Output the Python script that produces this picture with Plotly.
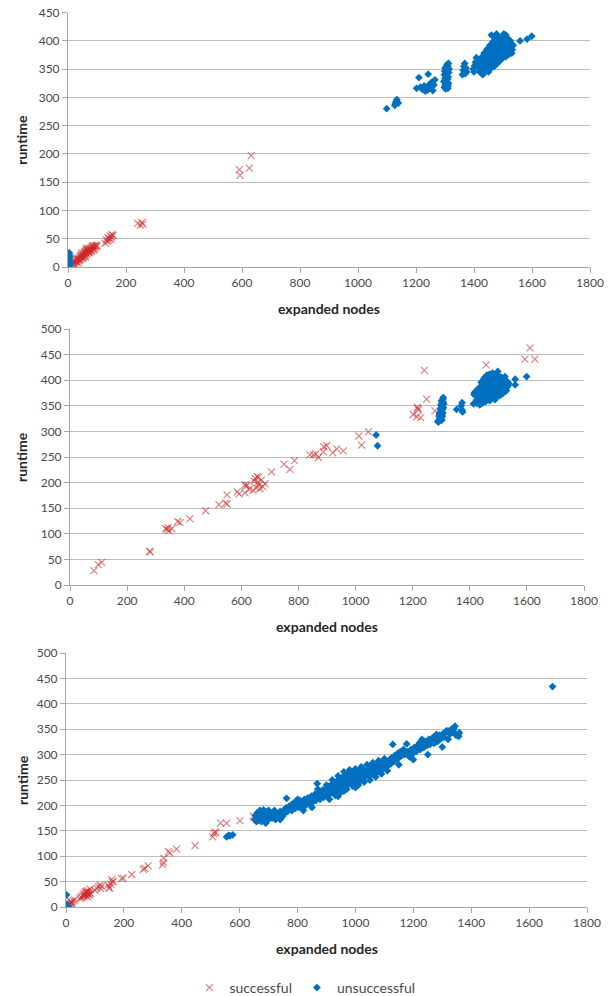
import plotly.graph_objects as go

W, H = 616, 996

# ---------------- panel 1 ----------------
p1_succ_x = [15, 18, 20, 22, 25, 28, 30, 32, 35, 36, 38, 40, 42, 44, 45, 48, 50, 52, 54, 55,
             58, 60, 60, 62, 64, 65, 67, 68, 70, 72, 74, 75, 78, 80, 82, 84, 86, 88, 90, 92,
             95, 98, 20, 25, 30, 35, 40, 45, 50, 55, 60, 65, 70, 75, 80, 85, 90, 100, 62, 58, 48,
             128, 132, 135, 138, 140, 143, 145, 148, 150, 152, 155,
             240, 250, 255, 258, 591, 593, 625, 632]
p1_succ_y = [5, 8, 6, 10, 9, 12, 8, 14, 11, 15, 13, 17, 14, 19, 16, 18, 21, 17, 22, 19,
             24, 21, 27, 25, 29, 23, 27, 31, 26, 30, 28, 33, 31, 35, 29, 33, 36, 32, 37, 34,
             38, 36, 12, 4, 15, 7, 12, 22, 15, 25, 18, 30, 33, 25, 28, 38, 30, 38, 33, 28, 25,
             42, 48, 45, 52, 47, 50, 55, 49, 53, 57, 56,
             77, 74, 79, 76, 172, 162, 175, 197]

p1_fail_x = [5, 4, 6, 5, 4, 6, 5, 4,
             1099, 1127, 1131, 1134, 1139, 1129,
             1202, 1210, 1215, 1222, 1228, 1232, 1236, 1242, 1240, 1245, 1248, 1252, 1255, 1258, 1265, 1262,
             1298, 1300, 1302, 1304, 1300, 1306, 1303, 1308, 1305, 1310, 1307, 1312, 1302, 1310, 1312, 1306,
             1309, 1296, 1298, 1313, 1311, 1304, 1299, 1310, 1314, 1300,
             1360, 1363, 1365, 1368, 1372, 1375, 1370,
             1397, 1400, 1405, 1408, 1402,
             1418, 1422, 1425, 1428, 1430, 1432, 1434, 1436, 1438, 1440, 1440, 1442, 1444, 1445, 1446, 1448,
             1449, 1450, 1451, 1452, 1453, 1455, 1456, 1457, 1458, 1460, 1461, 1462, 1463, 1464, 1466, 1467,
             1468, 1469, 1470, 1471, 1472, 1473, 1474, 1475, 1476, 1478, 1479, 1480, 1481, 1482, 1484, 1485,
             1486, 1488, 1489, 1490, 1491, 1492, 1494, 1495, 1496, 1498, 1500, 1501, 1503, 1504, 1505, 1507,
             1508, 1510, 1512, 1514, 1515, 1517, 1520, 1522, 1525, 1532, 1438, 1444, 1455, 1465, 1412, 1416,
             1420, 1425, 1430, 1435, 1440, 1445, 1450, 1455, 1460, 1465, 1470, 1475, 1480, 1485, 1490,
             1495, 1500, 1505, 1510, 1515, 1520, 1525, 1530, 1460, 1478, 1490, 1510, 1528, 1535, 1520,
             1559, 1583, 1599]
p1_fail_y = [0, 2, 5, 10, 14, 18, 22, 25,
             280, 286, 292, 296, 290, 289,
             316, 335, 318, 314, 320, 311, 318, 341, 313, 322, 316, 326, 319, 312, 331, 322,
             318, 322, 326, 330, 334, 338, 342, 346, 350, 354, 358, 360, 315, 320, 325, 328,
             332, 328, 340, 344, 336, 322, 346, 316, 350, 352,
             340, 348, 355, 360, 352, 345, 342,
             350, 345, 362, 370, 356,
             352, 348, 358, 354, 362, 350, 366, 358, 352, 370, 362, 356, 374, 366, 360, 378,
             352, 370, 363, 384, 357, 375, 368, 390, 361, 380, 372, 395, 365, 386, 376, 369,
             392, 382, 400, 374, 408, 387, 368, 396, 380, 372, 390, 402, 384, 376, 394, 370,
             386, 398, 380, 376, 392, 404, 384, 378, 396, 388, 382, 400, 412, 392, 386, 396,
             380, 390, 384, 394, 398, 388, 392, 386, 390, 384, 345, 348, 352, 358, 358, 364,
             345, 370, 340, 378, 348, 385, 345, 392, 352, 398, 355, 404, 360, 406, 365,
             402, 370, 405, 372, 404, 376, 400, 378, 410, 412, 396, 410, 395, 392, 402,
             400, 403, 408]

# ---------------- panel 2 ----------------
p2_succ_x = [84, 99, 111, 279, 281, 335, 340, 347, 357, 343, 377, 385, 420, 475, 522, 545, 550, 550,
             586, 592, 613, 613, 616, 620, 628, 641, 645, 648, 652, 655, 657, 660, 662, 665, 670, 675,
             683, 706, 749, 770, 786, 840, 852, 861, 870, 887, 889, 899, 920, 934, 957,
             1012, 1021, 1045, 1202, 1216, 1220, 1215, 1228, 1218, 1241, 1249, 1278,
             1457, 1452, 1457, 1593, 1611, 1628]
p2_succ_y = [28, 40, 44, 66, 64, 110, 108, 106, 110, 112, 124, 122, 129, 145, 157, 160, 158, 176,
             182, 178, 196, 180, 193, 195, 187, 185, 203, 208, 190, 212, 200, 210, 195, 188, 205, 192,
             198, 221, 236, 226, 243, 254, 254, 256, 249, 260, 270, 272, 258, 266, 262,
             291, 273, 299, 333, 347, 342, 329, 327, 345, 419, 363, 340,
             430, 400, 395, 441, 463, 441]

p2_fail_x = [1072, 1077,
             1290, 1293, 1296, 1292, 1298, 1295, 1300, 1297, 1302, 1299, 1304, 1301, 1306, 1307,
             1300, 1304, 1306, 1303, 1308, 1305, 1294, 1288, 1309, 1306, 1302, 1298,
             1354, 1373, 1373, 1375, 1370,
             1413, 1417, 1421, 1415,
             1425, 1428, 1430, 1432, 1434, 1436, 1437, 1438, 1440, 1441, 1442, 1444, 1445, 1446, 1447,
             1448, 1449, 1450, 1451, 1452, 1453, 1454, 1455, 1456, 1457, 1458, 1459, 1460, 1461, 1462,
             1463, 1464, 1465, 1466, 1467, 1468, 1469, 1470, 1471, 1472, 1473, 1474, 1475, 1476, 1477,
             1478, 1479, 1480, 1481, 1482, 1484, 1485, 1486, 1487, 1488, 1489, 1490, 1491, 1492, 1493,
             1494, 1496, 1497, 1498, 1499, 1500, 1502, 1503, 1505, 1506, 1508, 1510, 1512, 1514, 1516,
             1518, 1520, 1523, 1524, 1526, 1528, 1530, 1535, 1520, 1510, 1442, 1455,
             1425, 1430, 1435, 1440, 1445, 1450, 1455, 1460, 1465, 1470, 1475, 1480, 1485, 1490, 1495,
             1500, 1505, 1510, 1515, 1520, 1525, 1530, 1536, 1528, 1470, 1488,
             1559, 1559, 1599]
p2_fail_y = [293, 272,
             318, 322, 326, 330, 333, 337, 340, 344, 348, 352, 356, 360, 363, 366,
             325, 330, 336, 342, 346, 350, 334, 320, 354, 358, 322, 328,
             343, 356, 342, 338, 350,
             354, 376, 378, 372,
             362, 368, 358, 374, 364, 380, 370, 360, 386, 376, 366, 392, 382, 372, 362,
             388, 378, 368, 396, 384, 374, 364, 390, 380, 370, 400, 386, 376, 366, 394,
             382, 372, 404, 390, 378, 368, 398, 386, 374, 408, 394, 382, 372, 402, 390,
             378, 370, 398, 386, 376, 410, 394, 382, 374, 404, 390, 380, 372, 400, 388,
             378, 396, 384, 417, 376, 392, 382, 402, 390, 380, 396, 386, 392, 384, 400,
             390, 386, 407, 396, 388, 392, 386, 390, 378, 378, 356, 358,
             355, 384, 352, 396, 356, 404, 360, 410, 362, 412, 364, 414, 366, 410, 368,
             408, 370, 406, 374, 402, 378, 398, 394, 380, 360, 362,
             402, 391, 407]

# ---------------- panel 3 ----------------
p3_succ_x = [14, 16, 18, 20, 22, 25, 30, 48, 52, 55, 58, 60, 62, 65, 66, 68, 70, 71, 72, 74, 75, 76,
             78, 80, 81, 83, 85, 100, 106, 112, 117, 120, 123, 146, 149, 150, 155, 158, 160, 163,
             192, 198, 227, 267, 272, 284, 334, 336, 338, 354, 359, 382, 446,
             507, 510, 515, 518, 534, 555, 601, 647, 650]
p3_succ_y = [7, 11, 8, 10, 5, 12, 14, 17, 20, 18, 22, 25, 21, 27, 24, 30, 22, 30, 26, 28, 32, 20,
             25, 29, 24, 35, 27, 33, 37, 40, 43, 36, 41, 43, 37, 38, 45, 54, 49, 51,
             56, 57, 64, 74, 76, 81, 83, 88, 96, 109, 106, 114, 121,
             138, 145, 148, 146, 165, 165, 170, 179, 177]

p3_fail_x = [2, 3, 5, 4, 6, 8, 3,
             555, 566, 576, 562,
             652, 655, 658, 660, 662, 665, 668, 670, 672, 675, 678, 680, 682, 684, 686, 688, 690, 692,
             694, 696, 698, 700,
             704, 708, 712, 716, 720, 724, 728, 732, 736, 740, 744, 748, 752, 756, 762, 760, 765, 770,
             775, 780, 784, 788, 792, 796, 800, 804, 808, 812,
             816, 820, 824, 828, 832, 836, 840, 844, 848, 852, 856, 860, 864, 868, 870, 874, 878, 882,
             886, 890, 894, 898, 900,
             904, 908, 912, 916, 920, 924, 928, 932, 935, 938, 942, 945, 948, 952, 955, 958, 962, 965,
             968, 972, 975, 978, 982, 985, 988, 992, 995, 998,
             1002, 1005, 1008, 1012, 1015, 1018, 1022, 1025, 1028, 1032, 1036, 1040, 1044, 1048, 1052,
             1056, 1060, 1064, 1068, 1072, 1076, 1080, 1084, 1088, 1092, 1096, 1100,
             1104, 1108, 1112, 1118, 1122, 1126, 1129, 1132, 1136, 1140, 1145, 1150, 1155, 1160, 1166,
             1170, 1177, 1180, 1186, 1192, 1198, 1204, 1210,
             1216, 1221, 1224, 1230, 1236, 1242, 1248, 1254, 1258, 1263, 1268, 1272, 1278, 1284, 1290,
             1295, 1300, 1306, 1312, 1315, 1321, 1326, 1332, 1338, 1344, 1348, 1354, 1357, 1359,
             900, 910, 920, 930, 940, 950, 960, 970, 980, 990, 1000, 1010, 1020, 1030, 1040, 1050,
             1060, 1070, 1080, 1090, 1100, 1110, 1000, 960, 940, 850, 870, 820, 700, 690, 720, 740,
             780, 800, 1150, 1200, 1250, 1300, 1230, 1280, 1320, 1340,
             1681]
p3_fail_y = [24, 1, 0, 3, 2, 1, 5,
             138, 140, 142, 141,
             172, 180, 168, 185, 176, 171, 183, 190, 174, 168, 186, 179, 191, 172, 182, 176, 188, 170,
             180, 175, 184, 172,
             178, 182, 175, 186, 178, 172, 184, 180, 176, 188, 182, 178, 190, 185, 214, 195, 188, 198,
             192, 202, 196, 205, 194, 208, 200, 196, 210, 203,
             198, 206, 212, 200, 208, 215, 204, 210, 218, 206, 214, 222, 210, 243, 218, 225, 212, 220,
             230, 216, 226, 234, 220,
             228, 238, 222, 232, 242, 226, 236, 246, 230, 240, 250, 232, 244, 254, 236, 246, 258, 238,
             250, 262, 242, 254, 264, 244, 256, 266, 246, 258,
             250, 262, 244, 256, 268, 250, 260, 272, 254, 264, 258, 270, 262, 276, 258,
             268, 264, 278, 262, 272, 282, 268, 276, 284, 270, 280, 286,
             274, 284, 278, 290, 282, 294, 320, 286, 298, 290, 302, 294, 306, 298, 310,
             300, 321, 306, 296, 310, 302, 314, 306,
             318, 323, 310, 320, 314, 326, 318, 330, 320, 328, 334, 322, 332, 326, 338,
             331, 340, 334, 344, 347, 346, 340, 350, 344, 356, 338, 339, 336, 343,
             240, 212, 250, 220, 258, 226, 266, 232, 270, 238, 272, 240, 276, 246, 280, 250,
             284, 256, 288, 262, 292, 268, 235, 228, 218, 196, 232, 190, 190, 165, 190, 172,
             190, 212, 280, 290, 300, 315, 330, 340, 330, 350,
             434]

x_ticks = [0, 200, 400, 600, 800, 1000, 1200, 1400, 1600, 1800]
y_ticks_top = [0, 50, 100, 150, 200, 250, 300, 350, 400, 450]
y_ticks = [0, 50, 100, 150, 200, 250, 300, 350, 400, 450, 500]

# panel boxes in pixels: (left, right, top, bottom)
panels = [
    (68, 590, 12.5, 267, 450, y_ticks_top, p1_succ_x, p1_succ_y, p1_fail_x, p1_fail_y),
    (70, 584, 329, 585, 500, y_ticks, p2_succ_x, p2_succ_y, p2_fail_x, p2_fail_y),
    (66, 587, 653, 907, 500, y_ticks, p3_succ_x, p3_succ_y, p3_fail_x, p3_fail_y),
]

RED = "rgba(205,40,40,0.62)"
BLUE = "#0070C0"
TXT = "#4A4A4A"
GRID = "#BDBDBD"
AXIS = "#A6A6A6"
FONT = "Lato, 'Open Sans', sans-serif"

fig = go.Figure()
layout = dict(
    width=W, height=H, margin=dict(l=0, r=0, t=0, b=0, autoexpand=False),
    paper_bgcolor="white", plot_bgcolor="white",
    font=dict(family=FONT, color=TXT, size=12),
    showlegend=True,
    legend=dict(orientation="h", x=0.495, xanchor="center", y=1 - 988 / H, yanchor="middle",
                font=dict(size=14, color=TXT), itemsizing="trace", itemwidth=30,
                traceorder="normal"),
)
annotations = []

for i, (l, r, t, b, ymax, yt, sx, sy, fx, fy) in enumerate(panels, start=1):
    xa = "x" if i == 1 else f"x{i}"
    ya = "y" if i == 1 else f"y{i}"
    fig.add_trace(go.Scatter(
        x=sx, y=sy, mode="markers", name="successful", xaxis=xa, yaxis=ya,
        showlegend=(i == 1), legendgroup="s",
        marker=dict(symbol="x-thin", size=7, line=dict(color=RED, width=1.1), color=RED)))
    fig.add_trace(go.Scatter(
        x=fx, y=fy, mode="markers", name="unsuccessful", xaxis=xa, yaxis=ya,
        showlegend=(i == 1), legendgroup="u",
        marker=dict(symbol="diamond", size=6, color=BLUE)))

    xkey = "xaxis" if i == 1 else f"xaxis{i}"
    ykey = "yaxis" if i == 1 else f"yaxis{i}"
    layout[xkey] = dict(
        domain=[l / W, r / W], anchor=ya, range=[0, 1800], tickvals=x_ticks, automargin=False,
        showgrid=False, zeroline=False, showline=True, linecolor=AXIS, linewidth=1,
        ticks="outside", ticklen=5, tickcolor=AXIS, tickfont=dict(size=12, color=TXT))
    layout[ykey] = dict(
        domain=[1 - b / H, 1 - t / H], anchor=xa, range=[0, ymax], tickvals=yt, automargin=False,
        showgrid=True, gridcolor=GRID, gridwidth=1, zeroline=False,
        showline=True, linecolor=AXIS, linewidth=1,
        ticks="outside", ticklen=5, tickcolor=AXIS, tickfont=dict(size=12, color=TXT))

    annotations.append(dict(
        text="<b>runtime</b>", xref="paper", yref="paper", x=22 / W, y=1 - (t + b) / 2 / H,
        textangle=-90, showarrow=False, xanchor="center", yanchor="middle",
        font=dict(size=14, color="#262626", family=FONT)))
    annotations.append(dict(
        text="<b>expanded nodes</b>", xref="paper", yref="paper", x=(l + r) / 2 / W,
        y=1 - (b + 41) / H, showarrow=False, xanchor="center", yanchor="middle",
        font=dict(size=14, color="#262626", family=FONT)))

layout["annotations"] = annotations
fig.update_layout(**layout)
fig.write_html("out.html")
